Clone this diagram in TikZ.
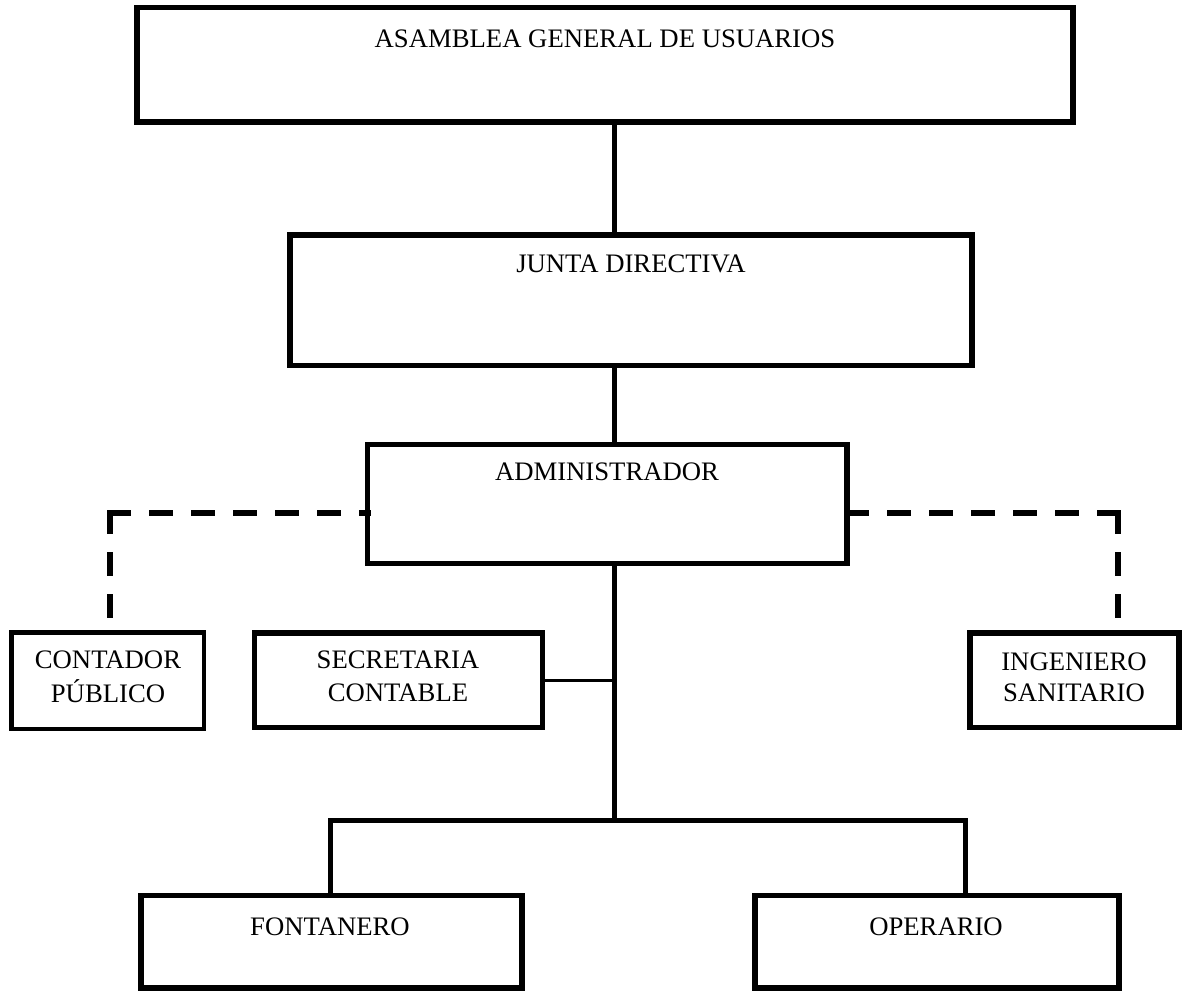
\documentclass[tikz,border=0pt]{standalone}
\usepackage{fontspec}
\setmainfont{Liberation Serif}
\begin{document}
\begin{tikzpicture}[x=1pt,y=-1pt,
  box/.style={draw,line width=5.5pt,inner sep=0pt,outer sep=0pt},
  thinbox/.style={draw,line width=4.5pt,inner sep=0pt,outer sep=0pt},
  lbl/.style={anchor=base,inner sep=0pt,font=\fontsize{26.7}{32}\selectfont},
  conn/.style={line width=5pt},
  thinconn/.style={line width=2.8pt},
  dashline/.style={line width=6pt,line cap=rect,dash pattern=on 18pt off 24pt}]
\useasboundingbox (0,0) rectangle (1182,991);
% boxes
\node[box,minimum width=936pt,minimum height=114.5pt] (asm) at (605,64.75) {};
\node[box,minimum width=682pt,minimum height=130.5pt] (jun) at (631,300.25) {};
\node[box,minimum width=479.5pt,minimum height=119pt] (adm) at (607.25,504) {};
\node[thinbox,minimum width=192.5pt,minimum height=96.5pt] (con) at (107.75,680.75) {};
\node[box,minimum width=288pt,minimum height=94.5pt] (sec) at (398.5,680.25) {};
\node[box,minimum width=209pt,minimum height=94.5pt] (ing) at (1074.5,680.25) {};
\node[box,minimum width=381pt,minimum height=92.5pt] (fon) at (331.5,941.75) {};
\node[box,minimum width=364pt,minimum height=92.5pt] (ope) at (937,941.75) {};
% labels
\node[lbl] (asmT) at (605,47) {ASAMBLEA GENERAL DE USUARIOS};
\node[lbl] (junT) at (631,272) {JUNTA DIRECTIVA};
\node[lbl] (admT) at (607,480) {ADMINISTRADOR};
\node[lbl] (conT1) at (108,668) {CONTADOR};
\node[lbl] (conT2) at (108,702) {PÚBLICO};
\node[lbl] (secT1) at (398,668) {SECRETARIA};
\node[lbl] (secT2) at (398,701) {CONTABLE};
\node[lbl] (ingT1) at (1074,670) {INGENIERO};
\node[lbl] (ingT2) at (1074,701) {SANITARIO};
\node[lbl] (fonT) at (330,935) {FONTANERO};
\node[lbl] (opeT) at (936,935) {OPERARIO};
% connectors
\coordinate (v) at (614,0);
\coordinate (hub) at (614,820);
\coordinate (hl) at (330,820);
\coordinate (hr) at (965,820);
\draw[conn] (asm.south -| v) -- (jun.north -| v);
\draw[conn] (jun.south -| v) -- (adm.north -| v);
\draw[conn] (adm.south -| v) -- (hub);
\draw[thinconn] (sec.east) -- (sec.east -| v);
\draw[conn] (fon.north -| hl) -- (hl) -- (hr) -- (ope.north -| hr);
% dashed
\coordinate (cl) at (110,512.5);
\coordinate (cr) at (1118,512.5);
\draw[dashline] (cl) -- (adm.west |- cl);
\draw[dashline] (cl) -- (con.north -| cl);
\draw[dashline] (cr) -- (adm.east |- cr);
\draw[dashline] (cr) -- (ing.north -| cr);
\end{tikzpicture}
\end{document}
